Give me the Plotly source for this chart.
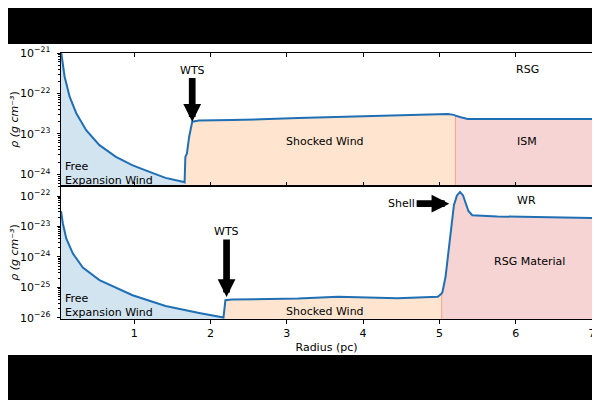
import plotly.graph_objects as go
from plotly.subplots import make_subplots

# radius in pc, density as log10(rho / g cm^-3)
# top panel: RSG case
top_r_free = [0.04, 0.087, 0.153, 0.24, 0.37, 0.544, 0.76, 0.98, 1.20, 1.41, 1.65, 1.66]
top_lr_free = [-20.95, -21.58, -22.08, -22.49, -22.91, -23.28, -23.57, -23.78, -23.94, -24.09, -24.19, -24.20]
top_r_shock = [1.66, 1.67, 1.69, 1.72, 1.76, 1.85, 2.28, 3.15, 4.02, 5.11, 5.19, 5.21]
top_lr_shock = [-24.20, -23.57, -23.49, -23.07, -22.70, -22.67, -22.66, -22.61, -22.56, -22.51, -22.53, -22.55]
top_r_ism = [5.21, 5.28, 5.37, 5.76, 7.0]
top_lr_ism = [-22.55, -22.59, -22.63, -22.63, -22.63]

# bottom panel: WR case
bot_r_free = [0.04, 0.065, 0.11, 0.196, 0.326, 0.544, 0.978, 1.41, 1.85, 2.17]
bot_lr_free = [-22.5, -22.91, -23.40, -23.89, -24.35, -24.76, -25.26, -25.61, -25.84, -25.99]
bot_r_shock = [2.17, 2.195, 2.28, 3.15, 3.67, 4.45, 4.98, 5.03]
bot_lr_shock = [-25.99, -25.42, -25.40, -25.37, -25.31, -25.36, -25.31, -25.20]
bot_r_rsg = [5.03, 5.04, 5.08, 5.13, 5.16, 5.19, 5.23, 5.27, 5.31, 5.35, 5.38, 5.43, 5.76, 7.0]
bot_lr_rsg = [-25.20, -25.15, -24.66, -23.67, -23.02, -22.30, -21.98, -21.87, -21.98, -22.25, -22.49, -22.63, -22.67, -22.72]

x_ticks = [1, 2, 3, 4, 5, 6, 7]
top_decades = [-21, -22, -23, -24]
bot_decades = [-22, -23, -24, -25, -26]

LINE = "#1f6fb4"
BLUE_FILL = "#d2e4f0"
ORANGE_FILL = "#ffe5cf"
RED_FILL = "#f7d4d4"
EDGE = "#f2a58c"
FONT = "DejaVu Sans"


def dens(vals):
    return [10 ** v for v in vals]


fig = make_subplots(rows=2, cols=1, shared_xaxes=True, vertical_spacing=0)

panels = [
    (1, [(top_r_free, top_lr_free, BLUE_FILL), (top_r_shock, top_lr_shock, ORANGE_FILL),
         (top_r_ism, top_lr_ism, RED_FILL)], -24.29),
    (2, [(bot_r_free, bot_lr_free, BLUE_FILL), (bot_r_shock, bot_lr_shock, ORANGE_FILL),
         (bot_r_rsg, bot_lr_rsg, RED_FILL)], -26.04),
]

for row, segs, ymin in panels:
    for r, lr, col in segs:
        fig.add_trace(go.Scatter(x=r, y=dens(lr), mode="lines", fill="tozeroy",
                                 fillcolor=col, line=dict(width=0, color=col),
                                 hoverinfo="skip", showlegend=False), row=row, col=1)
    # boundary edge between shocked wind and outer material
    r_b, lr_b = segs[2][0][0], segs[2][1][0]
    fig.add_trace(go.Scatter(x=[r_b, r_b], y=[10 ** ymin, 10 ** lr_b], mode="lines",
                             line=dict(color=EDGE, width=1), showlegend=False), row=row, col=1)
    all_r = segs[0][0] + segs[1][0][1:] + segs[2][0][1:]
    all_lr = segs[0][1] + segs[1][1][1:] + segs[2][1][1:]
    fig.add_trace(go.Scatter(x=all_r, y=dens(all_lr), mode="lines",
                             line=dict(color=LINE, width=2), showlegend=False), row=row, col=1)


def minor_vals(decades):
    lo, hi = min(decades) - 1, max(decades)
    return [m * 10 ** d for d in range(lo, hi + 1) for m in range(2, 10)]


axis_common = dict(showline=True, linecolor="black", linewidth=1, showgrid=False,
                   zeroline=False, automargin=False, tickcolor="black", tickwidth=1,
                   tickfont=dict(family=FONT, size=11, color="black"))

fig.update_xaxes(range=[0.04, 7.0], tickvals=x_ticks, ticklabeloverflow="allow", **axis_common)
fig.update_xaxes(row=1, col=1, ticks="inside", ticklen=4, mirror="ticks", showticklabels=False)
fig.update_xaxes(row=2, col=1, ticks="outside", ticklen=4, mirror=True,
                 title=dict(text="Radius (pc)", font=dict(family=FONT, size=11, color="black"),
                            standoff=4))

for row, decades, rng in [(1, top_decades, [-24.29, -21]), (2, bot_decades, [-26.04, -21.67])]:
    fig.update_yaxes(row=row, col=1, type="log", range=rng, ticks="outside", ticklen=3.5,
                     mirror=True, tickvals=[10 ** d for d in decades],
                     ticktext=["10<sup>\u2212%d</sup>" % (-d) for d in decades],
                     ticklabelstandoff=4,
                     minor=dict(ticks="outside", ticklen=2, tickcolor="black",
                                tickvals=minor_vals(decades)),
                     **axis_common)

ann = []


def label(text, x, ly, xref, yref, **kw):
    d = dict(text=text, x=x, y=ly, xref=xref, yref=yref, showarrow=False,
             font=dict(family=FONT, size=11, color="black"))
    d.update(kw)
    ann.append(d)


# top panel labels
label("RSG", 6.16, -21.42, "x", "y")
label("Shocked Wind", 3.5, -23.20, "x", "y")
label("ISM", 6.15, -23.20, "x", "y")
label("Free<br>Expansion Wind", 0.06, -23.98, "x", "y", xanchor="left", align="left")
ann.append(dict(text="WTS", x=1.76, y=-22.70, xref="x", yref="y", showarrow=True,
                ax=0, ay=-51.7, arrowhead=2, arrowwidth=6.7, arrowsize=0.53,
                arrowcolor="black", standoff=0,
                font=dict(family=FONT, size=11, color="black")))

# bottom panel labels
label("WR", 6.14, -22.16, "x2", "y2")
label("RSG Material", 6.18, -24.16, "x2", "y2")
label("Shocked Wind", 3.5, -25.80, "x2", "y2")
label("Free<br>Expansion Wind", 0.06, -25.59, "x2", "y2", xanchor="left", align="left")
ann.append(dict(text="WTS", x=2.21, y=-25.32, xref="x2", yref="y2", showarrow=True,
                ax=0, ay=-65.6, arrowhead=2, arrowwidth=6.7, arrowsize=0.53,
                arrowcolor="black", standoff=0,
                font=dict(family=FONT, size=11, color="black")))
ann.append(dict(text="Shell", x=5.13, y=-22.25, xref="x2", yref="y2", showarrow=True,
                ax=-47.7, ay=0, arrowhead=2, arrowwidth=6.7, arrowsize=0.53,
                arrowcolor="black", standoff=0,
                font=dict(family=FONT, size=11, color="black")))

# y axis titles
for yc in [0.75, 0.25]:
    ann.append(dict(text="<i>\u03c1 (g cm\u207b\u00b3</i>)", x=-0.088, y=yc,
                    xref="paper", yref="paper", showarrow=False, textangle=-90,
                    xanchor="center", yanchor="middle",
                    font=dict(family=FONT, size=11, color="black")))

# the page body adds an 8px offset, so the figure is kept inside the window
fig.update_layout(
    width=584, height=392,
    template="none",
    paper_bgcolor="black",
    plot_bgcolor="white",
    margin=dict(l=53, r=0, t=45, b=81),
    annotations=ann,
    shapes=[dict(type="rect", xref="paper", yref="paper", x0=-0.12, x1=1.02,
                 y0=-0.1353, y1=1.0338, fillcolor="white", line=dict(width=0),
                 layer="below")],
    font=dict(family=FONT, size=11, color="black"),
)

fig.write_html("out.html")
